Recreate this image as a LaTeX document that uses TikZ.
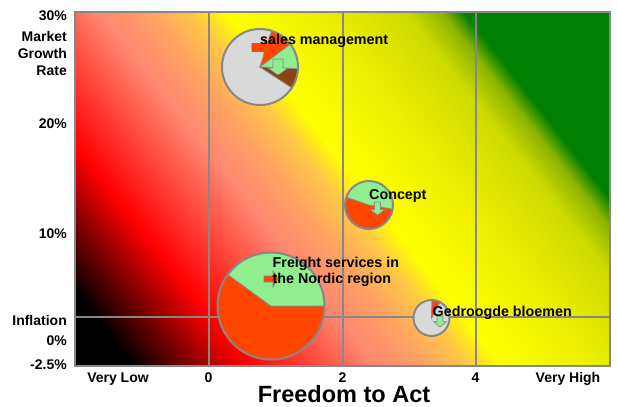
\documentclass[tikz,border=0pt]{standalone}
\usepackage{fontspec}
\setmainfont{Liberation Sans}
\definecolor{gridgray}{RGB}{135,135,135}
\definecolor{bgdred}{RGB}{140,0,0}
\definecolor{bgred}{RGB}{255,0,0}
\definecolor{bgsalmon}{RGB}{255,135,112}
\definecolor{bgsalmono}{RGB}{255,162,100}
\definecolor{bgorange}{RGB}{255,200,70}
\definecolor{bgyellow}{RGB}{255,255,0}
\definecolor{bgyellow2}{RGB}{238,240,0}
\definecolor{bgyolive}{RGB}{205,218,0}
\definecolor{bgolive}{RGB}{140,180,0}
\definecolor{bggreen}{RGB}{0,128,0}
\definecolor{piegray}{RGB}{217,217,217}
\definecolor{piered}{RGB}{255,69,0}
\definecolor{piegreen}{RGB}{144,238,144}
\definecolor{piebrown}{RGB}{139,69,19}
% linear colour band: from distance #1 (colour #3) to distance #2 (colour #4)
\newcommand{\bandseg}[4]{%
  \pgfmathtruncatemacro\nsteps{max(1,(#2-#1)/1.5)}%
  \foreach \k in {0,...,\nsteps}{%
    \pgfmathsetmacro\dd{#1+(#2-#1)*\k/\nsteps}%
    \pgfmathsetmacro\pp{100*\k/\nsteps}%
    \fill[#4!\pp!#3] (\dd,-1000) rectangle (1200,1000);
  }}
\tikzset{
 lbl/.style={font=\fontsize{14.3}{16}\selectfont\bfseries, inner sep=0pt},
 axlbl/.style={font=\fontsize{14}{16}\selectfont\bfseries, inner sep=0pt},
 gridline/.style={draw=gridgray, line width=1.3pt},
 slice/.style={draw=gridgray, line width=0.7pt},
 rim/.style={draw=gridgray, line width=2pt},
 arr/.style={draw=gridgray, line width=0.6pt, line join=miter},
}
\begin{document}
\begin{tikzpicture}[x=1pt,y=-1pt]
\useasboundingbox (0,0) rectangle (617,406);
% background gradient (linear, from the lower left corner)
\begin{scope}
\clip (75,12) rectangle (610,366);
\begin{scope}[shift={(75,366)}, rotate=38]
\fill[black] (-100,-1000) rectangle (1200,1000);
\bandseg{45}{95}{black}{bgdred}
\bandseg{95}{135}{bgdred}{bgred}
\bandseg{135}{235}{bgred}{bgsalmon}
\bandseg{235}{275}{bgsalmon}{bgsalmono}
\bandseg{275}{310}{bgsalmono}{bgorange}
\bandseg{310}{335}{bgorange}{bgyellow}
\bandseg{335}{405}{bgyellow}{bgyellow2}
\bandseg{405}{478}{bgyellow2}{bgyolive}
\bandseg{478}{506}{bgyolive}{bgolive}
\bandseg{506}{524}{bgolive}{bggreen}
\end{scope}
\end{scope}
% grid lines
\draw[gridline] (209,12) -- (209,366);
\draw[gridline] (343,12) -- (343,366);
\draw[gridline] (476,12) -- (476,366);
\draw[gridline] (75,317) -- (610,317);
% frame
\draw[draw=gridgray, line width=2.5pt] (75,12) rectangle (610,366);

% bubble: sales management
\begin{scope}[shift={(260,67)}, yscale=-1]
\filldraw[slice, fill=piegray] (0,0) -- (72:38) arc[start angle=72, end angle=327, radius=38] -- cycle;
\filldraw[slice, fill=piered] (0,0) -- (37:38) arc[start angle=37, end angle=72, radius=38] -- cycle;
\filldraw[slice, fill=piegreen] (0,0) -- (-3:38) arc[start angle=-3, end angle=37, radius=38] -- cycle;
\filldraw[slice, fill=piebrown] (0,0) -- (-33:38) arc[start angle=-33, end angle=-3, radius=38] -- cycle;
\node[circle, rim, minimum size=76pt, inner sep=0pt] (b1) at (0,0) {};
\end{scope}
\filldraw[arr, draw=piered, fill=piered] (252,43.5) -- (264,43.5) -- (264,38.5) -- (271,47.5) -- (264,56.5) -- (264,51.5) -- (252,51.5) -- cycle;
\filldraw[arr, fill=piegreen] (273,59) -- (283,59) -- (283,68) -- (288,68) -- (278,75) -- (268,68) -- (273,68) -- cycle;
\node[lbl, anchor=base west] (t1) at (260,45) {sales management};

% bubble: Concept
\begin{scope}[shift={(369,205)}, yscale=-1]
\filldraw[slice, fill=piered] (0,0) -- (161:24) arc[start angle=161, end angle=350, radius=24] -- cycle;
\filldraw[slice, fill=piegreen] (0,0) -- (-10:24) arc[start angle=-10, end angle=161, radius=24] -- cycle;
\node[circle, rim, minimum size=48pt, inner sep=0pt] (b2) at (0,0) {};
\end{scope}
\filldraw[arr, fill=piegreen] (374.5,202) -- (380.5,202) -- (380.5,209.5) -- (385,209.5) -- (377.5,215) -- (370,209.5) -- (374.5,209.5) -- cycle;
\node[lbl, anchor=base west] (t2) at (369,199.3) {Concept};

% bubble: Freight services
\begin{scope}[shift={(271,306)}, yscale=-1]
\filldraw[slice, fill=piered] (0,0) -- (144:53.5) arc[start angle=144, end angle=360, radius=53.5] -- cycle;
\filldraw[slice, fill=piegreen] (0,0) -- (0:53.5) arc[start angle=0, end angle=144, radius=53.5] -- cycle;
\node[circle, rim, minimum size=107pt, inner sep=0pt] (b3) at (0,0) {};
\end{scope}
\filldraw[arr, fill=piered] (264,276) -- (273,276) -- (273,271) -- (278,279) -- (273,287) -- (273,282) -- (264,282) -- cycle;
\node[lbl, anchor=base west] (t3a) at (272.5,267.3) {Freight services in};
\node[lbl, anchor=base west] (t3b) at (272.5,283.3) {the Nordic region};

% bubble: Gedroogde bloemen
\begin{scope}[shift={(431.5,318)}, yscale=-1]
\filldraw[slice, fill=piegray] (0,0) -- (88:18) arc[start angle=88, end angle=422, radius=18] -- cycle;
\filldraw[slice, fill=piered] (0,0) -- (62:18) arc[start angle=62, end angle=88, radius=18] -- cycle;
\node[circle, rim, minimum size=36pt, inner sep=0pt] (b4) at (0,0) {};
\end{scope}
\filldraw[arr, fill=piegreen] (437,316) -- (443,316) -- (443,321.7) -- (446.5,321.7) -- (440,327) -- (433.5,321.7) -- (437,321.7) -- cycle;
\node[lbl, anchor=base west] (t4) at (432.5,316) {Gedroogde bloemen};

% y axis labels
\node[axlbl, anchor=base east] (y30) at (67,20.7) {30\%};
\node[axlbl, anchor=base east] (ym1) at (67,41.7) {Market};
\node[axlbl, anchor=base east] (ym2) at (67,58.7) {Growth};
\node[axlbl, anchor=base east] (ym3) at (67,75.7) {Rate};
\node[axlbl, anchor=base east] (y20) at (67,128.3) {20\%};
\node[axlbl, anchor=base east] (y10) at (67,238.3) {10\%};
\node[axlbl, anchor=base east] (yinf) at (67,325) {Inflation};
\node[axlbl, anchor=base east] (y0) at (67,345.3) {0\%};
\node[axlbl, anchor=base east] (ym) at (67,369.5) {-2.5\%};
% x axis labels
\node[axlbl, anchor=base] (xvl) at (118,382) {Very Low};
\node[axlbl, anchor=base] (x0) at (208.5,382) {0};
\node[axlbl, anchor=base] (x2) at (342.5,382) {2};
\node[axlbl, anchor=base] (x4) at (475.5,382) {4};
\node[axlbl, anchor=base] (xvh) at (568,382) {Very High};
\node[font=\fontsize{23.5}{25}\selectfont\bfseries, inner sep=0pt, anchor=base] (xt) at (344,402.5) {Freedom to Act};
\end{tikzpicture}
\end{document}
